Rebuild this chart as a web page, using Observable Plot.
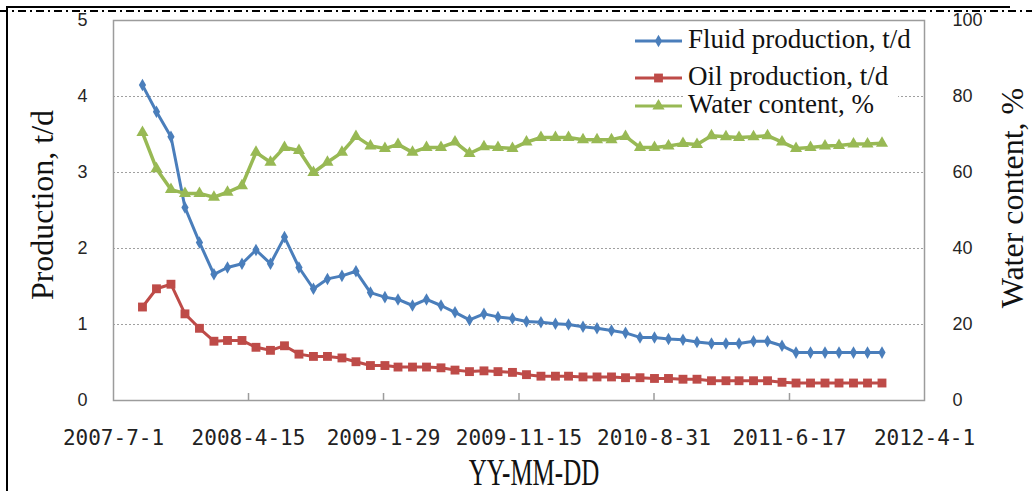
<!DOCTYPE html>
<html>
<head>
<meta charset="utf-8">
<script src="https://cdn.jsdelivr.net/npm/d3@7"></script>
<script src="https://cdn.jsdelivr.net/npm/@observablehq/plot@0.6"></script>
<style>
  html, body { margin: 0; padding: 0; background: #fff; }
  #wrap { position: relative; width: 1032px; height: 491px; overflow: hidden; }
  #wrap svg.plot { position: absolute; left: 0; top: 0; }
  .deco { position: absolute; background: #000; }
  .title { position: absolute; font-family: "Liberation Serif", "Times New Roman", serif; color: #111; white-space: nowrap; }
</style>
</head>
<body>
<div id="wrap"></div>
<script>
// ---- data ----
const months = [
  "2007-09","2007-10","2007-11","2007-12",
  "2008-01","2008-02","2008-03","2008-04","2008-05","2008-06","2008-07","2008-08","2008-09","2008-10","2008-11","2008-12",
  "2009-01","2009-02","2009-03","2009-04","2009-05","2009-06","2009-07","2009-08","2009-09","2009-10","2009-11","2009-12",
  "2010-01","2010-02","2010-03","2010-04","2010-05","2010-06","2010-07","2010-08","2010-09","2010-10","2010-11","2010-12",
  "2011-01","2011-02","2011-03","2011-04","2011-05","2011-06","2011-07","2011-08","2011-09","2011-10","2011-11","2011-12",
  "2012-01"
];
const fluidProduction = [4.15,3.8,3.47,2.54,2.08,1.66,1.75,1.8,1.98,1.8,2.15,1.75,1.47,1.6,1.64,1.7,1.42,1.36,1.33,1.25,1.33,1.25,1.16,1.06,1.14,1.1,1.08,1.04,1.03,1.01,1.0,0.97,0.95,0.92,0.89,0.83,0.83,0.81,0.8,0.77,0.75,0.75,0.75,0.78,0.78,0.72,0.63,0.63,0.63,0.63,0.63,0.63,0.63];
const oilProduction = [1.23,1.47,1.53,1.14,0.95,0.78,0.79,0.79,0.70,0.66,0.72,0.61,0.58,0.58,0.56,0.51,0.46,0.46,0.44,0.44,0.44,0.43,0.40,0.38,0.39,0.38,0.37,0.34,0.32,0.32,0.32,0.31,0.31,0.31,0.30,0.30,0.29,0.29,0.28,0.28,0.26,0.26,0.26,0.26,0.26,0.24,0.23,0.23,0.23,0.23,0.23,0.23,0.23];
const waterContent = [70.5,61,55.5,54.5,54.5,53.5,54.8,56.5,65.3,62.7,66.6,65.8,60,62.7,65.3,69.5,67,66.3,67.4,65.3,66.6,66.6,68,65,66.8,66.6,66.3,68,69.2,69.2,69.2,68.6,68.6,68.6,69.5,66.6,66.6,67,67.6,67.4,69.7,69.4,69.2,69.4,69.7,68,66.3,66.6,67,67.1,67.5,67.5,67.7];
const xTickLabels = ["2007-7-1","2008-4-15","2009-1-29","2009-11-15","2010-8-31","2011-6-17","2012-4-1"];
const leftTicks = [0,1,2,3,4,5];
const leftTickLabels = ["0","1","2","3","4","5"];
const rightTickLabels = ["0","20","40","60","80","100"];
const seriesNames = ["Fluid production, t/d","Oil production, t/d","Water content, %"];
const colors = ["#4a7ebb","#be4b48","#98b954"];

// ---- build ----
const parseYMD = s => { const [y,m,d] = s.split("-").map(Number); return new Date(Date.UTC(y, m-1, d)); };
const tickDates = xTickLabels.map(parseYMD);
const rows = months.map((m, i) => ({
  date: parseYMD(m + "-1"),
  fluid: fluidProduction[i],
  oil: oilProduction[i],
  water: waterContent[i]
}));
const waterToY = w => w / 20; // 100 % ↔ 5 t/d

const chart = Plot.plot({
  width: 1032,
  height: 491,
  marginLeft: 113,
  marginRight: 108,
  marginTop: 20,
  marginBottom: 91,
  style: {background: "transparent", fontFamily: "Liberation Sans, Arial, sans-serif"},
  x: {type: "utc", domain: [tickDates[0], tickDates[tickDates.length - 1]]},
  y: {domain: [0, 5]},
  marks: [
    Plot.ruleY([1,2,3,4], {stroke: "#a0a0a0", strokeWidth: 1, strokeDasharray: "2,2"}),
    Plot.frame({stroke: "#9c9c9c", strokeWidth: 1.5}),
    Plot.ruleX(tickDates.slice(1, -1), {stroke: "#9c9c9c", strokeWidth: 1.5, insetTop: 373}),
    Plot.axisX(tickDates, {
      tickSize: 0, tickPadding: 30, label: null,
      tickFormat: d => xTickLabels[tickDates.findIndex(t => +t === +d)],
      fontSize: 21, fontFamily: "DejaVu Sans Mono, monospace", fill: "#222"
    }),
    Plot.axisY(leftTicks, {anchor: "left", tickSize: 0, tickPadding: 26, label: null, fontSize: 18, fill: "#262626",
      tickFormat: d => leftTickLabels[leftTicks.indexOf(d)]}),
    Plot.axisY(leftTicks, {anchor: "right", tickSize: 0, tickPadding: 28, label: null, fontSize: 18, fill: "#262626",
      tickFormat: d => rightTickLabels[leftTicks.indexOf(d)], textAnchor: "start"}),
    Plot.line(rows, {x: "date", y: "fluid", stroke: colors[0], strokeWidth: 3}),
    Plot.dot(rows, {x: "date", y: "fluid", symbol: "diamond", fill: colors[0], r: 3.8}),
    Plot.line(rows, {x: "date", y: "oil", stroke: colors[1], strokeWidth: 3}),
    Plot.dot(rows, {x: "date", y: "oil", symbol: "square", fill: colors[1], r: 5}),
    Plot.line(rows, {x: "date", y: d => waterToY(d.water), stroke: colors[2], strokeWidth: 3.5}),
    Plot.dot(rows, {x: "date", y: d => waterToY(d.water), symbol: "triangle", fill: colors[2], r: 4.5})
  ]
});
chart.classList.add("plot");

const wrap = document.getElementById("wrap");
wrap.appendChild(chart);

// decorative page border
const addDiv = (cls, css) => { const d = document.createElement("div"); d.className = cls; d.style.cssText = css; wrap.appendChild(d); return d; };
addDiv("deco", "left:6px;top:6px;width:1004px;height:2px;");
addDiv("deco", "left:6px;top:6px;width:2px;height:490px;");
addDiv("", "position:absolute;left:0;top:10px;width:1032px;height:2px;background:repeating-linear-gradient(to right,#000 0 8px,transparent 8px 12px,#000 12px 14px,transparent 14px 18px);");

// axis titles
const t1 = addDiv("title", "font-size:32px;line-height:32px;left:42px;top:205px;transform:translate(-50%,-50%) rotate(-90deg);");
t1.textContent = "Production, t/d";
const t2 = addDiv("title", "font-size:32px;line-height:32px;left:1012px;top:198px;transform:translate(-50%,-50%) rotate(-90deg);");
t2.textContent = "Water content, %";
const t3 = addDiv("title", "font-size:25px;line-height:18px;left:534px;top:473px;transform:translate(-50%,-50%) scaleY(1.5);");
t3.textContent = "YY-MM-DD";

// legend
const ns = "http://www.w3.org/2000/svg";
const leg = document.createElementNS(ns, "svg");
leg.setAttribute("width", 1032); leg.setAttribute("height", 130);
leg.style.cssText = "position:absolute;left:0;top:0;";
const mk = (tag, attrs) => { const e = document.createElementNS(ns, tag); for (const k in attrs) e.setAttribute(k, attrs[k]); leg.appendChild(e); return e; };
mk("rect", {x: 683, y: 22, width: 215, height: 98, fill: "#fff"});
const rowsY = [41, 78, 106];
const baseY = [48, 85, 113];
const symbols = [d3.symbolDiamond, d3.symbolSquare, d3.symbolTriangle];
const sizes = [45, 78, 64];
seriesNames.forEach((name, i) => {
  mk("line", {x1: 635, x2: 682, y1: rowsY[i], y2: rowsY[i], stroke: colors[i], "stroke-width": 3});
  mk("path", {d: d3.symbol(symbols[i], sizes[i])(), transform: `translate(658.5,${rowsY[i]})`, fill: colors[i]});
  const t = mk("text", {x: 688, y: baseY[i], "font-family": "Liberation Serif, Times New Roman, serif", "font-size": 27, fill: "#111"});
  t.textContent = name;
});
wrap.appendChild(leg);
</script>
</body>
</html>
